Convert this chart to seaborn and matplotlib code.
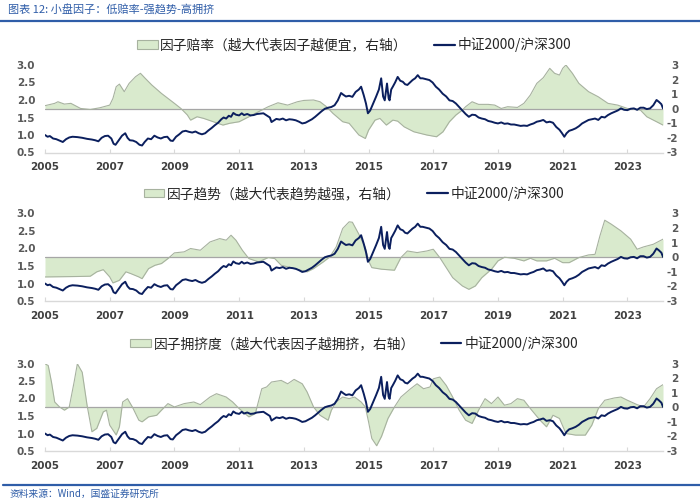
import matplotlib
matplotlib.use('Agg')
import matplotlib.pyplot as plt
import seaborn as sns
from matplotlib.patches import Patch
from matplotlib.lines import Line2D

# ---------------- data ----------------
blue_years = [2005.00, 2005.08, 2005.15, 2005.25, 2005.35, 2005.45, 2005.55, 2005.65, 2005.75, 2005.85,
              2006.00, 2006.15, 2006.30, 2006.45, 2006.55, 2006.65, 2006.75, 2006.85, 2006.95, 2007.05,
              2007.12, 2007.18, 2007.28, 2007.38, 2007.48, 2007.55, 2007.62, 2007.72, 2007.82, 2007.92,
              2008.00, 2008.08, 2008.18, 2008.28, 2008.38, 2008.48, 2008.58, 2008.68, 2008.78, 2008.88,
              2008.95, 2009.05, 2009.15, 2009.25, 2009.35, 2009.45, 2009.55, 2009.65, 2009.75, 2009.85,
              2009.95, 2010.05, 2010.15, 2010.25, 2010.35, 2010.45, 2010.52, 2010.60, 2010.68, 2010.75,
              2010.82, 2010.90, 2011.00, 2011.08, 2011.15, 2011.25, 2011.35, 2011.45, 2011.55, 2011.65,
              2011.75, 2011.85, 2011.95, 2012.00, 2012.08, 2012.15, 2012.25, 2012.35, 2012.45, 2012.55,
              2012.65, 2012.75, 2012.85, 2012.95, 2013.05, 2013.15, 2013.25, 2013.35, 2013.45, 2013.55,
              2013.65, 2013.75, 2013.85, 2013.95, 2014.05, 2014.15, 2014.22, 2014.30, 2014.40, 2014.50,
              2014.60, 2014.70, 2014.77, 2014.85, 2014.92, 2014.98, 2015.05, 2015.12, 2015.23, 2015.32,
              2015.39, 2015.45, 2015.50, 2015.57, 2015.62, 2015.65, 2015.70, 2015.75, 2015.82, 2015.90,
              2015.98, 2016.06, 2016.13, 2016.20, 2016.28, 2016.36, 2016.44, 2016.52, 2016.60, 2016.67,
              2016.75, 2016.88, 2016.98, 2017.08, 2017.18, 2017.29, 2017.40, 2017.50, 2017.60, 2017.70,
              2017.80, 2017.90, 2018.00, 2018.10, 2018.20, 2018.30, 2018.40, 2018.50, 2018.60, 2018.70,
              2018.80, 2018.90, 2019.00, 2019.10, 2019.20, 2019.30, 2019.40, 2019.50, 2019.60, 2019.70,
              2019.80, 2019.90, 2020.00, 2020.10, 2020.20, 2020.30, 2020.40, 2020.50, 2020.60, 2020.70,
              2020.80, 2020.90, 2020.98, 2021.05, 2021.12, 2021.20, 2021.30, 2021.40, 2021.50, 2021.60,
              2021.70, 2021.80, 2021.90, 2022.00, 2022.10, 2022.20, 2022.30, 2022.40, 2022.50, 2022.60,
              2022.70, 2022.80, 2022.90, 2023.00, 2023.10, 2023.20, 2023.30, 2023.40, 2023.50, 2023.60,
              2023.70, 2023.80, 2023.90, 2023.97, 2024.05, 2024.10]
blue_values = [1.00, 0.95, 0.97, 0.90, 0.88, 0.84, 0.80, 0.88, 0.93, 0.95,
               0.94, 0.92, 0.89, 0.87, 0.85, 0.82, 0.92, 0.97, 0.98, 0.90,
               0.75, 0.72, 0.85, 0.98, 1.05, 0.92, 0.85, 0.84, 0.80, 0.72,
               0.70, 0.80, 0.90, 0.88, 0.98, 0.93, 0.90, 0.94, 0.95, 0.84,
               0.83, 0.95, 1.02, 1.10, 1.12, 1.09, 1.07, 1.10, 1.05, 1.02,
               1.05, 1.13, 1.20, 1.28, 1.35, 1.45, 1.50, 1.47, 1.55, 1.52,
               1.63, 1.58, 1.56, 1.62, 1.57, 1.60, 1.56, 1.57, 1.60, 1.61,
               1.62, 1.56, 1.50, 1.37, 1.42, 1.46, 1.44, 1.47, 1.42, 1.45,
               1.44, 1.42, 1.38, 1.33, 1.35, 1.40, 1.45, 1.52, 1.60, 1.68,
               1.75, 1.78, 1.80, 1.85, 1.99, 2.20, 2.15, 2.10, 2.12, 2.09,
               2.23, 2.30, 2.38, 2.14, 1.90, 1.62, 1.70, 1.85, 2.09, 2.30,
               2.62, 2.10, 1.99, 2.47, 2.05, 1.99, 2.30, 2.38, 2.50, 2.66,
               2.55, 2.52, 2.45, 2.43, 2.50, 2.57, 2.62, 2.71, 2.62, 2.62,
               2.60, 2.57, 2.50, 2.38, 2.30, 2.18, 2.10, 1.99, 1.97, 1.90,
               1.80, 1.70, 1.60, 1.52, 1.58, 1.57, 1.50, 1.47, 1.45, 1.40,
               1.38, 1.35, 1.33, 1.36, 1.32, 1.33, 1.30, 1.30, 1.28, 1.26,
               1.27, 1.26, 1.30, 1.33, 1.38, 1.40, 1.43, 1.36, 1.38, 1.35,
               1.23, 1.15, 1.05, 0.95, 1.05, 1.12, 1.15, 1.19, 1.25, 1.33,
               1.38, 1.43, 1.45, 1.47, 1.43, 1.52, 1.50, 1.57, 1.62, 1.66,
               1.70, 1.76, 1.72, 1.71, 1.75, 1.76, 1.72, 1.78, 1.78, 1.74,
               1.76, 1.85, 2.00, 1.95, 1.88, 1.76]

odds_years = [2005.0, 2005.3, 2005.4, 2005.6, 2005.8, 2006.1, 2006.4, 2006.7, 2007.0, 2007.1,
              2007.2, 2007.3, 2007.45, 2007.6, 2007.8, 2007.95, 2008.1, 2008.3, 2008.6, 2008.8,
              2009.0, 2009.2, 2009.4, 2009.5, 2009.7, 2009.9, 2010.2, 2010.5, 2010.7, 2011.0,
              2011.3, 2011.6, 2011.9, 2012.2, 2012.5, 2012.8, 2013.0, 2013.3, 2013.5, 2013.7,
              2013.9, 2014.2, 2014.4, 2014.7, 2014.9, 2015.0, 2015.2, 2015.35, 2015.55, 2015.75,
              2015.9, 2016.1, 2016.4, 2016.8, 2017.1, 2017.3, 2017.5, 2017.7, 2017.9, 2018.0,
              2018.2, 2018.4, 2018.7, 2018.9, 2019.1, 2019.3, 2019.6, 2019.8, 2020.0, 2020.2,
              2020.4, 2020.6, 2020.75, 2020.9, 2021.0, 2021.1, 2021.3, 2021.5, 2021.8, 2022.1,
              2022.4, 2022.7, 2023.0, 2023.2, 2023.4, 2023.6, 2023.9, 2024.1]
odds_values = [0.21, 0.37, 0.48, 0.32, 0.37, 0.02, -0.05, 0.07, 0.25, 0.71,
               1.51, 1.69, 1.17, 1.74, 2.20, 2.43, 2.08, 1.63, 1.05, 0.71,
               0.37, 0.02, -0.43, -0.78, -0.55, -0.66, -0.89, -1.12, -1.00, -0.89,
               -0.55, -0.20, 0.14, 0.41, 0.25, 0.48, 0.57, 0.60, 0.48, 0.14,
               -0.32, -0.89, -1.00, -1.80, -2.04, -1.47, -0.78, -0.66, -1.12, -0.78,
               -0.85, -1.24, -1.58, -1.80, -1.92, -1.58, -0.89, -0.43, -0.09, 0.14,
               0.48, 0.30, 0.30, 0.25, 0.02, 0.14, 0.09, 0.37, 0.94, 1.74,
               2.13, 2.77, 2.43, 2.31, 2.77, 3.00, 2.43, 1.74, 1.17, 0.82,
               0.37, 0.25, 0.02, -0.02, -0.09, -0.55, -0.89, -1.12]

trend_years = [2005.0, 2006.0, 2006.4, 2006.6, 2006.8, 2007.0, 2007.1, 2007.3, 2007.5, 2007.65,
               2007.9, 2008.0, 2008.2, 2008.4, 2008.6, 2008.8, 2009.0, 2009.3, 2009.5, 2009.8,
               2010.1, 2010.4, 2010.6, 2010.75, 2010.9, 2011.1, 2011.3, 2011.6, 2011.9, 2012.1,
               2012.3, 2012.6, 2012.9, 2013.1, 2013.3, 2013.6, 2013.8, 2014.0, 2014.2, 2014.4,
               2014.5, 2014.7, 2014.9, 2015.0, 2015.1, 2015.4, 2015.8, 2016.0, 2016.2, 2016.5,
               2016.8, 2017.0, 2017.2, 2017.4, 2017.6, 2017.9, 2018.1, 2018.3, 2018.5, 2018.8,
               2019.0, 2019.2, 2019.5, 2019.8, 2020.0, 2020.2, 2020.5, 2020.75, 2021.0, 2021.2,
               2021.5, 2021.8, 2022.0, 2022.15, 2022.3, 2022.5, 2022.8, 2023.1, 2023.3, 2023.5,
               2023.8, 2024.1]
trend_values = [-1.35, -1.32, -1.30, -1.00, -0.85, -1.35, -1.76, -1.58, -1.00, -1.12,
                -1.35, -1.47, -0.78, -0.55, -0.43, -0.09, 0.30, 0.37, 0.60, 0.48,
                1.05, 1.28, 1.17, 1.51, 1.17, 0.48, -0.09, -0.32, -0.02, -0.09,
                -0.55, -0.71, -0.89, -1.00, -0.78, -0.32, 0.02, 0.71, 1.97, 2.43,
                2.40, 1.58, 0.66, -0.25, -0.71, -0.82, -0.89, -0.02, 0.43, 0.32,
                0.43, 0.55, -0.02, -0.71, -1.40, -1.97, -2.20, -1.97, -1.40, -0.82,
                -0.25, 0.00, -0.07, -0.25, -0.07, -0.25, -0.25, -0.07, -0.37, -0.37,
                -0.02, 0.16, 0.20, 1.46, 2.54, 2.27, 1.81, 1.24, 0.55, 0.71,
                0.89, 1.24]

crowd_years = [2005.0, 2005.1, 2005.2, 2005.3, 2005.45, 2005.6, 2005.75, 2005.9, 2006.0, 2006.15,
               2006.3, 2006.45, 2006.6, 2006.8, 2006.9, 2007.0, 2007.2, 2007.3, 2007.4, 2007.55,
               2007.7, 2007.9, 2008.0, 2008.2, 2008.45, 2008.6, 2008.8, 2009.0, 2009.3, 2009.6,
               2009.8, 2010.1, 2010.3, 2010.6, 2010.8, 2011.0, 2011.3, 2011.5, 2011.7, 2011.85,
               2012.0, 2012.3, 2012.5, 2012.7, 2012.95, 2013.1, 2013.3, 2013.5, 2013.75, 2013.85,
               2014.0, 2014.2, 2014.4, 2014.57, 2014.77, 2014.9, 2015.0, 2015.1, 2015.25, 2015.4,
               2015.6, 2015.8, 2016.0, 2016.3, 2016.5, 2016.7, 2016.9, 2017.0, 2017.2, 2017.4,
               2017.6, 2017.8, 2018.0, 2018.2, 2018.4, 2018.6, 2018.8, 2019.0, 2019.2, 2019.4,
               2019.6, 2019.8, 2020.0, 2020.3, 2020.5, 2020.7, 2020.9, 2021.1, 2021.4, 2021.7,
               2021.9, 2022.1, 2022.3, 2022.6, 2022.8, 2023.0, 2023.3, 2023.5, 2023.7, 2023.9,
               2024.1]
crowd_values = [2.98, 2.86, 1.73, 0.36, 0.02, -0.20, 0.02, 1.73, 2.98, 2.40,
                0.14, -1.68, -1.45, -0.32, -0.20, -1.23, -1.90, -1.34, 0.36, 0.59,
                0.02, -0.89, -1.00, -0.66, -0.55, -0.20, 0.25, 0.02, 0.25, 0.36,
                0.18, 0.70, 0.93, 0.70, 0.36, -0.09, -0.66, -0.43, 1.27, 1.39,
                1.73, 1.84, 1.61, 1.91, 1.61, 1.05, 0.02, -0.55, -0.89, -0.20,
                0.36, 0.70, 0.59, 0.70, 0.36, 0.02, -1.00, -2.14, -2.64, -2.00,
                -0.77, 0.02, 0.70, 1.27, 1.61, 1.27, 1.39, 1.95, 2.07, 1.50,
                0.70, -0.20, -0.89, -1.11, -0.20, 0.59, 0.25, 0.70, 0.14, 0.25,
                0.59, 0.48, -0.09, -0.89, -1.34, -0.55, -0.77, -1.80, -1.91, -1.91,
                -1.23, -0.09, 0.48, 0.64, 0.70, 0.48, 0.18, 0.02, 0.59, 1.27,
                1.55]

factor_labels = ["因子赔率（越大代表因子越便宜，右轴）",
                 "因子趋势（越大代表趋势越强，右轴）",
                 "因子拥挤度（越大代表因子越拥挤，右轴）"]
line_label = "中证2000/沪深300"
left_ticks = [0.5, 1.0, 1.5, 2.0, 2.5, 3.0]
left_ticklabels = ["0.5", "1.0", "1.5", "2.0", "2.5", "3.0"]
right_ticks = [-3, -2, -1, 0, 1, 2, 3]
right_ticklabels = ["-3", "-2", "-1", "0", "1", "2", "3"]
x_ticks = [2005, 2007, 2009, 2011, 2013, 2015, 2017, 2019, 2021, 2023]
x_ticklabels = [str(t) for t in x_ticks]

title_text = "图表 12: 小盘因子：低赔率-强趋势-高拥挤"
source_text = "资料来源：Wind，国盛证券研究所"

# ---------------- style ----------------
sns.set_theme(style='white')
plt.rcParams['font.family'] = ['Noto Sans CJK SC', 'DejaVu Sans']
plt.rcParams['axes.unicode_minus'] = False

BLUE = '#0b1f5e'
FILL = '#d9eacd'
EDGE = '#a7b29f'
ZERO = '#a6a6a6'
TICKC = '#595959'
HEAD = '#2f5da8'

W, H = 700, 503
fig = plt.figure(figsize=(7.0, 5.03), dpi=100)
fig.patch.set_facecolor('white')

tick_font = dict(family='DejaVu Sans', weight='bold', size=7.5, color=TICKC)


def add_panel(top_px, fy, fv, flabel):
    left, right = 45, 663
    height = 87.5
    rect = [left / W, (H - top_px - height) / H, (right - left) / W, height / H]
    ax = fig.add_axes(rect)
    ax2 = ax.twinx()

    ax2.fill_between(fy, fv, 0, color=FILL, lw=0)
    ax2.axhline(0, color=ZERO, lw=0.9)
    sns.lineplot(x=fy, y=fv, ax=ax2, color=EDGE, lw=0.8, sort=False)
    sns.lineplot(x=blue_years, y=blue_values, ax=ax, color=BLUE, lw=1.4, sort=False)

    ax.set_zorder(ax2.get_zorder() + 1)
    ax.patch.set_visible(False)

    ax.set_xlim(2005, 2024.1)
    ax.set_ylim(0.5, 3.0)
    ax2.set_ylim(-3, 3)
    ax.set_xlabel('')
    ax.set_ylabel('')
    ax2.set_ylabel('')

    for s in ax.spines.values():
        s.set_visible(False)
    for s in ax2.spines.values():
        s.set_visible(False)
    ax.spines['bottom'].set_visible(True)
    ax.spines['bottom'].set_color('#d9d9d9')
    ax.spines['bottom'].set_linewidth(1.0)

    ax.set_xticks(x_ticks)
    ax.set_xticklabels(x_ticklabels, fontdict=dict(family='DejaVu Sans', weight='bold', size=7.5, color='#404040'))
    ax.set_yticks(left_ticks)
    ax.set_yticklabels(left_ticklabels, fontdict=tick_font)
    ax2.set_yticks(right_ticks)
    ax2.set_yticklabels(right_ticklabels, fontdict=tick_font)
    for lab in ax2.get_yticklabels():
        lab.set_horizontalalignment('right')

    ax.tick_params(axis='x', bottom=True, direction='in', length=3, width=0.8,
                   color='#d9d9d9', pad=7)
    ax.tick_params(axis='y', left=False, length=0, pad=7)
    ax2.tick_params(axis='y', right=False, length=0, pad=11)

    handles = [Patch(facecolor=FILL, edgecolor=EDGE, linewidth=0.8),
               Line2D([], [], color=BLUE, lw=1.6)]
    ax.legend(handles, [flabel, line_label], loc='center',
              bbox_to_anchor=(0.5, 1.0 + 20 / height), ncol=2, frameon=False,
              prop=dict(family=['Noto Sans CJK SC', 'DejaVu Sans'], size=9.9),
              handlelength=1.5, handleheight=0.55, handletextpad=0.2,
              columnspacing=1.9, borderaxespad=0, borderpad=0,
              labelcolor='#262626')
    return ax


add_panel(65, odds_years, odds_values, factor_labels[0])
add_panel(213.5, trend_years, trend_values, factor_labels[1])
add_panel(363.5, crowd_years, crowd_values, factor_labels[2])

fig.text(8 / W, 1 - 10 / H, title_text, fontsize=8, color=HEAD, style='italic',
         va='center', ha='left', family=['Noto Sans CJK SC', 'DejaVu Sans'])
fig.add_artist(Line2D([0.0, 1.0], [1 - 20.5 / H] * 2, color=HEAD, lw=1.6,
                      transform=fig.transFigure))
fig.add_artist(Line2D([0.004, 1.0], [1 - 485 / H] * 2, color=HEAD, lw=1.6,
                      transform=fig.transFigure))
fig.text(10 / W, 1 - 494 / H, source_text, fontsize=7, color=HEAD, style='italic',
         va='center', ha='left', family=['Noto Sans CJK SC', 'DejaVu Sans'])

fig.savefig('out.png', dpi=100, facecolor='white')
